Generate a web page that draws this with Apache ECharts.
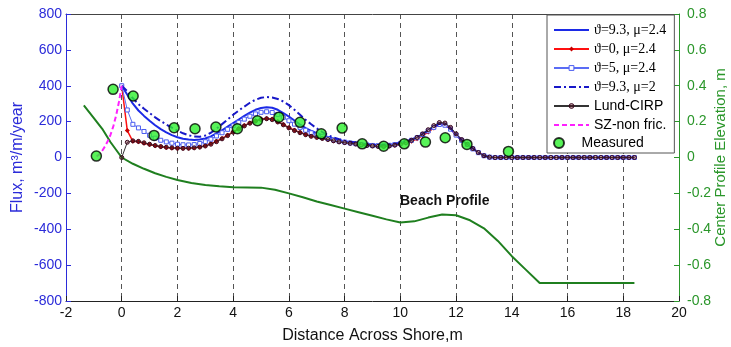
<!DOCTYPE html>
<html>
<head>
<meta charset="utf-8">
<script src="https://cdn.jsdelivr.net/npm/echarts@6/dist/echarts.min.js"></script>
<style>
  html, body { margin: 0; padding: 0; background: #ffffff; }
  #chart { width: 731px; height: 347px; }
</style>
</head>
<body>
<div id="chart"></div>
<script>
// Cross-shore positions of the model output (m)
var xModel = [0, 0.2, 0.4, 0.6, 0.8, 1.0, 1.2, 1.4, 1.6, 1.8,
  2.0, 2.2, 2.4, 2.6, 2.8, 3.0, 3.2, 3.4, 3.6, 3.8,
  4.0, 4.2, 4.4, 4.6, 4.8, 5.0, 5.2, 5.4, 5.6, 5.8,
  6.0, 6.2, 6.4, 6.6, 6.8, 7.0, 7.2, 7.4, 7.6, 7.8,
  8.0, 8.2, 8.4, 8.6, 8.8, 9.0, 9.2, 9.4, 9.6, 9.8,
  10.0, 10.2, 10.4, 10.6, 10.8, 11.0, 11.2, 11.4, 11.6, 11.8,
  12.0, 12.2, 12.4, 12.6, 12.8, 13.0, 13.2,
  13.4, 13.6, 13.8, 14.0, 14.2, 14.4, 14.6, 14.8, 15.0, 15.2,
  15.4, 15.6, 15.8, 16.0, 16.2, 16.4, 16.6, 16.8, 17.0, 17.2,
  17.4, 17.6, 17.8, 18.0, 18.2, 18.4];

// Sediment flux, m3/m/year
var fluxTheta93 = [400, 350, 300, 262, 232, 205, 180, 158, 140, 125,
  113, 105, 100, 98, 100, 106, 118, 134, 152, 172,
  192, 212, 232, 250, 266, 276, 280, 277, 266, 248,
  228, 206, 184, 164, 148, 135, 124, 114, 105, 97,
  90, 85, 80, 76, 72, 69, 68, 68, 70, 74,
  80, 88, 98, 112, 130, 150, 170, 186, 182, 160,
  126, 97, 73, 49, 28, 10, 2,
  0, 0, 0, 0, 0, 0, 0, 0, 0, 0,
  0, 0, 0, 0, 0, 0, 0, 0, 0, 0,
  0, 0, 0, 0, 0, 0];

var fluxTheta0 = [400, 150, 90, 88, 80, 72, 65, 60, 56, 53,
  52, 51, 52, 54, 58, 65, 76, 90, 106, 124,
  143, 161, 178, 193, 205, 214, 218, 214, 200, 184,
  166, 152, 140, 128, 120, 114, 108, 101, 94, 88,
  84, 80, 76, 72, 68, 65, 63, 62, 64, 68,
  73, 80, 90, 104, 122, 142, 165, 185, 182, 160,
  126, 98, 74, 50, 28, 10, 2,
  0, 0, 0, 0, 0, 0, 0, 0, 0, 0,
  0, 0, 0, 0, 0, 0, 0, 0, 0, 0,
  0, 0, 0, 0, 0, 0];

var fluxTheta5 = [400, 265, 185, 165, 145, 124, 108, 96, 87, 80,
  74, 71, 70, 72, 78, 88, 102, 120, 138, 157,
  177, 196, 214, 230, 243, 252, 255, 251, 240, 224,
  205, 186, 168, 152, 138, 126, 116, 106, 98, 91,
  86, 81, 77, 73, 70, 67, 66, 66, 68, 72,
  78, 86, 96, 110, 128, 148, 168, 184, 180, 158,
  125, 96, 72, 48, 27, 10, 2,
  0, 0, 0, 0, 0, 0, 0, 0, 0, 0,
  0, 0, 0, 0, 0, 0, 0, 0, 0, 0,
  0, 0, 0, 0, 0, 0];

var fluxTheta93Mu2 = [400, 370, 330, 298, 272, 248, 224, 203, 184, 166,
  150, 135, 124, 117, 116, 122, 138, 160, 186, 212,
  238, 262, 284, 305, 322, 333, 337, 334, 326, 312,
  292, 266, 238, 210, 185, 162, 142, 125, 112, 102,
  94, 88, 83, 78, 74, 71, 70, 70, 72, 76,
  82, 90, 100, 114, 132, 152, 172, 188, 184, 162,
  128, 98, 74, 50, 28, 10, 2,
  0, 0, 0, 0, 0, 0, 0, 0, 0, 0,
  0, 0, 0, 0, 0, 0, 0, 0, 0, 0,
  0, 0, 0, 0, 0, 0];

var fluxLund = [0, 85, 93, 90, 82, 74, 67, 61, 57, 54,
  52, 51, 52, 54, 58, 64, 74, 88, 104, 122,
  141, 159, 176, 191, 203, 212, 216, 211, 198, 182,
  165, 150, 138, 127, 118, 112, 106, 100, 93, 87,
  83, 79, 75, 71, 67, 64, 62, 62, 64, 69,
  75, 84, 96, 112, 132, 155, 178, 195, 192, 168,
  132, 100, 74, 50, 28, 10, 2,
  0, 0, 0, 0, 0, 0, 0, 0, 0, 0,
  0, 0, 0, 0, 0, 0, 0, 0, 0, 0,
  0, 0, 0, 0, 0, 0];

// Swash zone, non-frictional model
var xSwash = [-0.9, -0.8, -0.7, -0.6, -0.5, -0.4, -0.3, -0.2, -0.1, 0];
var fluxSwash = [5, 18, 38, 62, 92, 128, 175, 235, 310, 400];

// Measured flux
var xMeasured = [-0.91, -0.31, 0.41, 1.16, 1.88, 2.63, 3.38, 4.15, 4.87, 5.64,
  6.40, 7.16, 7.91, 8.63, 9.40, 10.14, 10.90, 11.61, 12.39, 13.88];
var fluxMeasured = [8, 380, 343, 123, 166, 160, 170, 160, 205, 225,
  196, 132, 164, 76, 63, 76, 86, 110, 73, 34];

// Centre-line beach profile (m)
var xProfile = [-1.36, -1.0, -0.7, -0.4, 0, 0.4, 0.8, 1.2, 1.6, 2.0,
  2.5, 3.0, 3.5, 4.0, 4.5, 5.0, 5.5, 6.0, 6.5, 7.0,
  7.5, 8.0, 8.5, 9.0, 9.5, 10.0, 10.5, 11.0, 11.5, 12.0,
  12.5, 13.0, 13.5, 14.0, 14.5, 15.0, 18.4];
var zProfile = [0.29, 0.22, 0.16, 0.085, 0, -0.035, -0.063, -0.088, -0.108, -0.125,
  -0.142, -0.153, -0.16, -0.166, -0.167, -0.168, -0.18, -0.2, -0.222, -0.245,
  -0.265, -0.285, -0.305, -0.325, -0.345, -0.362, -0.356, -0.335, -0.318, -0.322,
  -0.35, -0.395, -0.465, -0.55, -0.625, -0.7, -0.7];

var names = {
  t93: 'ϑ=9.3, μ=2.4',
  t0: 'ϑ=0, μ=2.4',
  t5: 'ϑ=5, μ=2.4',
  t93m2: 'ϑ=9.3, μ=2',
  lund: 'Lund-CIRP',
  sz: 'SZ-non fric.',
  meas: 'Measured'
};

function pairs(xs, ys) {
  return xs.map(function (x, i) { return [x, ys[i]]; });
}

var blueAxis = '#2b2bd9';
var greenAxis = '#2a962a';
var sans = '"Liberation Sans", Arial, sans-serif';
var serif = '"Liberation Serif", "Times New Roman", serif';

var chart = echarts.init(document.getElementById('chart'), null, { renderer: 'canvas' });

chart.setOption({
  animation: false,
  backgroundColor: '#ffffff',
  textStyle: { fontFamily: sans },
  grid: { left: 66, right: 52, top: 14, bottom: 46, containLabel: false, outerBoundsMode: 'none' },
  legend: [{
    data: [
      { name: names.t93, textStyle: { fontFamily: serif }, itemStyle: { opacity: 0 } },
      { name: names.t0, textStyle: { fontFamily: serif } },
      { name: names.t5, textStyle: { fontFamily: serif }, itemStyle: { borderWidth: 1 } },
      { name: names.t93m2, textStyle: { fontFamily: serif }, itemStyle: { opacity: 0 } },
      { name: names.lund, itemStyle: { borderWidth: 1 } },
      { name: names.sz, itemStyle: { opacity: 0 } }
    ],
    orient: 'vertical',
    left: 547,
    top: 15,
    itemWidth: 35,
    itemHeight: 6,
    itemGap: 5,
    padding: [8, 8, 21, 6],
    borderColor: '#555555',
    borderWidth: 1,
    backgroundColor: '#ffffff',
    selectedMode: false,
    textStyle: { fontSize: 14, lineHeight: 14, color: '#000000', fontFamily: sans }
  }, {
    data: [names.meas],
    orient: 'vertical',
    left: 553,
    top: 136,
    itemWidth: 35,
    itemHeight: 10,
    padding: 0,
    selectedMode: false,
    textStyle: { fontSize: 14, lineHeight: 14, color: '#000000', fontFamily: sans }
  }],
  xAxis: [{
    type: 'value',
    position: 'bottom',
    min: -2,
    max: 20,
    interval: 2,
    name: 'Distance Across Shore,m',
    nameLocation: 'middle',
    nameGap: 27,
    nameMoveOverlap: false,
    nameTextStyle: { color: '#111111', fontSize: 16, fontFamily: sans },
    axisLine: { show: true, onZero: false, lineStyle: { color: '#222222', width: 1 } },
    axisTick: { show: true, inside: true, length: 5, lineStyle: { color: '#222222' } },
    axisLabel: { color: '#111111', fontSize: 14, margin: 5, fontFamily: sans },
    splitLine: {
      show: true, showMinLine: false, showMaxLine: false,
      lineStyle: { color: '#555555', width: 1, type: [5, 4] }
    }
  }, {
    type: 'value',
    position: 'top',
    min: -2,
    max: 20,
    interval: 2,
    axisLine: { show: true, onZero: false, lineStyle: { color: '#444444', width: 1 } },
    axisTick: { show: false },
    axisLabel: { show: false },
    splitLine: { show: false }
  }],
  yAxis: [{
    type: 'value',
    position: 'left',
    min: -800,
    max: 800,
    interval: 200,
    name: 'Flux, m³/m/year',
    nameLocation: 'middle',
    nameGap: 40,
    nameMoveOverlap: false,
    nameTextStyle: { color: blueAxis, fontSize: 16, fontFamily: sans },
    axisLine: { show: true, onZero: false, lineStyle: { color: blueAxis, width: 1 } },
    axisTick: { show: true, inside: true, length: 5, lineStyle: { color: blueAxis } },
    axisLabel: { color: blueAxis, fontSize: 14, margin: 4, fontFamily: sans },
    splitLine: { show: false }
  }, {
    type: 'value',
    position: 'right',
    min: -0.8,
    max: 0.8,
    interval: 0.2,
    name: 'Center Profile Elevation, m',
    nameLocation: 'middle',
    nameGap: 34,
    nameMoveOverlap: false,
    nameTextStyle: { color: greenAxis, fontSize: 15, fontFamily: sans },
    axisLine: { show: true, onZero: false, lineStyle: { color: greenAxis, width: 1 } },
    axisTick: { show: true, inside: true, length: 5, lineStyle: { color: greenAxis } },
    axisLabel: {
      color: greenAxis, fontSize: 14, margin: 8, fontFamily: sans,
      formatter: function (v) { return Math.abs(v) < 1e-9 ? '0' : v.toFixed(1); }
    },
    splitLine: { show: false }
  }],
  graphic: [{
    type: 'text',
    left: 400,
    top: 194,
    silent: true,
    style: { text: 'Beach Profile', font: 'bold 14px "Liberation Sans", Arial, sans-serif', fill: '#111111' }
  }],
  series: [
    {
      name: 'Beach profile',
      type: 'line',
      yAxisIndex: 1,
      data: pairs(xProfile, zProfile),
      symbol: 'none',
      lineStyle: { color: '#1f7f1f', width: 2 },
      z: 1
    },
    {
      name: names.t93,
      type: 'line',
      data: pairs(xModel, fluxTheta93),
      symbol: 'none',
      lineStyle: { color: '#1c2ae6', width: 2 },
      itemStyle: { color: '#1c2ae6' },
      z: 2
    },
    {
      name: names.t0,
      type: 'line',
      data: pairs(xModel, fluxTheta0),
      symbol: 'diamond',
      symbolSize: 5,
      lineStyle: { color: '#ff1010', width: 1.5 },
      itemStyle: { color: '#c80000' },
      z: 3
    },
    {
      name: names.t5,
      type: 'line',
      data: pairs(xModel, fluxTheta5),
      symbol: 'rect',
      symbolSize: 4,
      lineStyle: { color: '#5a6cf5', width: 1 },
      itemStyle: { color: '#ffffff', borderColor: '#4a5cf0', borderWidth: 1 },
      z: 4
    },
    {
      name: names.t93m2,
      type: 'line',
      data: pairs(xModel, fluxTheta93Mu2),
      symbol: 'none',
      lineStyle: { color: '#1818c8', width: 2, type: [7, 3, 2, 3] },
      itemStyle: { color: '#1818c8' },
      z: 5
    },
    {
      name: names.lund,
      type: 'line',
      data: pairs(xModel, fluxLund),
      symbol: 'circle',
      symbolSize: 4,
      lineStyle: { color: '#333333', width: 1 },
      itemStyle: { color: 'rgba(90,0,20,0.35)', borderColor: '#3a0a1e', borderWidth: 1 },
      z: 6
    },
    {
      name: names.sz,
      type: 'line',
      data: pairs(xSwash, fluxSwash),
      symbol: 'none',
      lineStyle: { color: '#ff20ff', width: 2, type: [5, 3] },
      itemStyle: { color: '#ff20ff' },
      z: 7
    },
    {
      name: names.meas,
      type: 'scatter',
      data: pairs(xMeasured, fluxMeasured),
      symbol: 'circle',
      symbolSize: 10,
      itemStyle: { color: '#2ef02e', borderColor: '#000000', borderWidth: 1.5 },
      z: 8
    }
  ]
});
</script>
</body>
</html>
